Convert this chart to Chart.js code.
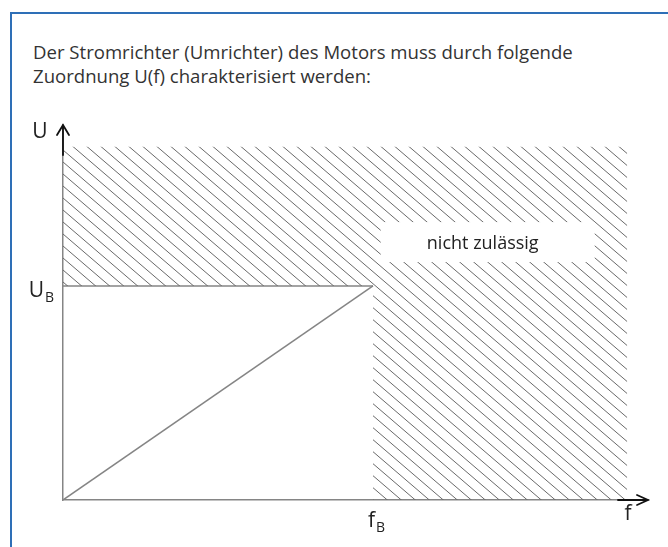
<!DOCTYPE html>
<html>
<head>
<meta charset="utf-8">
<script src="https://cdn.jsdelivr.net/npm/chart.js@4.4.1/dist/chart.umd.min.js"></script>
<style>
html, body { margin: 0; padding: 0; background: #fff; }
#page { position: relative; width: 668px; height: 547px; overflow: hidden; }
#frame { position: absolute; left: 10px; top: 12px; right: -10px; bottom: -10px;
         border-top: 2px solid #2e6fb7; border-left: 2px solid #2e6fb7; }
#intro { position: absolute; left: 33px; top: 40px; margin: 0; font-family: "Open Sans";
         color: #333; line-height: 24px; white-space: nowrap; }
#chart { position: absolute; left: 0; top: 0; }
</style>
</head>
<body>
<div id="page">
  <div id="frame"></div>
  <p id="intro"></p>
  <canvas id="chart" width="668" height="547"></canvas>
</div>
<script>
var introLines = [
    'Der Stromrichter (Umrichter) des Motors muss durch folgende',
    'Zuordnung U(f) charakterisiert werden:'
];

// axes (f_B = 1, U_B = 1)
var fAxisTitle = 'f';
var uAxisTitle = 'U';
var fAxisMax = 1.887;
var uAxisMax = 1.752;
var xTickValues = [1];
var xTickLabels = ['f_B'];
var yTickValues = [1];
var yTickLabels = ['U_B'];

// U(f) characteristic
var curveF = [0, 1];
var curveU = [0, 1];

// U = U_B limit
var limitF = [0, 1];
var limitU = [1, 1];

// lower edge of the forbidden zone, hatched up to forbiddenTop
var forbiddenF = [0, 1, 1, 1.82];
var forbiddenU = [1, 1, 0, 0];
var forbiddenTop = 1.65;
var forbiddenLabel = 'nicht zulässig';
var forbiddenLabelAt = [1.37, 1.205];

var FONT = '"Open Sans"';

// fit the intro text to the original line width
var intro = document.getElementById('intro');
var meas = document.createElement('canvas').getContext('2d');
meas.font = '100px ' + FONT;
var introSize = 100 * 540 / meas.measureText(introLines[0]).width;
intro.style.fontSize = introSize.toFixed(2) + 'px';
intro.style.top = (59 - 12 + 0.681 * introSize - 1.069 * introSize).toFixed(1) + 'px';
intro.innerHTML = introLines.join('<br>');

function pairs(xs, ys) {
    return xs.map(function (x, i) { return { x: x, y: ys[i] }; });
}

function makeHatch() {
    var w = 14, h = 12;
    var c = document.createElement('canvas');
    c.width = w; c.height = h;
    var g = c.getContext('2d');
    g.strokeStyle = '#6a6a6a';
    g.lineWidth = 1;
    g.beginPath();
    [-w, 0, w].forEach(function (dx) {
        g.moveTo(dx - w, -h);
        g.lineTo(dx + 2 * w, 2 * h);
    });
    g.stroke();
    return g.createPattern(c, 'repeat');
}

// "U_B" -> U with subscript B
function drawLabel(ctx, text, x, y, align) {
    var parts = text.split('_');
    ctx.font = '21px ' + FONT;
    var wMain = ctx.measureText(parts[0]).width;
    ctx.font = '14px ' + FONT;
    var wSub = parts[1] ? ctx.measureText(parts[1]).width + 1 : 0;
    var left = align === 'right' ? x - wMain - wSub : align === 'center' ? x - wMain / 2 : x;
    ctx.textAlign = 'left';
    ctx.textBaseline = 'alphabetic';
    ctx.font = '21px ' + FONT;
    ctx.fillText(parts[0], left, y);
    if (parts[1]) {
        ctx.font = '14px ' + FONT;
        ctx.fillText(parts[1], left + wMain + 1, y + 5);
    }
}

var axisDecor = {
    id: 'axisDecor',
    afterDraw: function (chart) {
        var ctx = chart.ctx;
        var xs = chart.scales.x, ys = chart.scales.y;
        var x0 = xs.getPixelForValue(0), y0 = ys.getPixelForValue(0);
        var tipX = xs.getPixelForValue(fAxisMax), tipY = ys.getPixelForValue(uAxisMax);
        ctx.save();

        // label box in the hatched zone
        var lx = xs.getPixelForValue(forbiddenLabelAt[0]);
        var ly = ys.getPixelForValue(forbiddenLabelAt[1]);
        ctx.fillStyle = '#fff';
        ctx.fillRect(lx - 107, ly - 20, 214, 40);
        ctx.fillStyle = '#222';
        ctx.font = '18px ' + FONT;
        ctx.textAlign = 'center';
        ctx.textBaseline = 'alphabetic';
        ctx.fillText(forbiddenLabel, lx - 5, ly + 7);

        // arrows
        ctx.strokeStyle = '#111';
        ctx.lineWidth = 1.8;
        ctx.lineCap = 'round';
        ctx.beginPath();
        ctx.moveTo(tipX - 30, y0); ctx.lineTo(tipX, y0);
        ctx.moveTo(tipX - 11, y0 - 5); ctx.lineTo(tipX, y0); ctx.lineTo(tipX - 11, y0 + 5);
        ctx.moveTo(x0, tipY + 30); ctx.lineTo(x0, tipY);
        ctx.moveTo(x0 - 6, tipY + 10); ctx.lineTo(x0, tipY); ctx.lineTo(x0 + 6, tipY + 10);
        ctx.stroke();

        // axis titles and tick labels
        ctx.fillStyle = '#222';
        drawLabel(ctx, uAxisTitle, x0 - 23, tipY + 13, 'center');
        drawLabel(ctx, fAxisTitle, tipX - 20, y0 + 20, 'center');
        xTickValues.forEach(function (v, i) {
            drawLabel(ctx, xTickLabels[i], xs.getPixelForValue(v) - 5, y0 + 27, 'left');
        });
        yTickValues.forEach(function (v, i) {
            drawLabel(ctx, yTickLabels[i], x0 - 9, ys.getPixelForValue(v) + 11, 'right');
        });
        ctx.restore();
    }
};

var axisLine = { color: '#858585', width: 1.5 };

new Chart(document.getElementById('chart'), {
    type: 'line',
    data: {
        datasets: [
            { label: forbiddenLabel, data: pairs(forbiddenF, forbiddenU), borderColor: 'rgba(0,0,0,0)',
              borderWidth: 0, pointRadius: 0, fill: { value: forbiddenTop }, backgroundColor: makeHatch() },
            { label: 'U_B', data: pairs(limitF, limitU), borderColor: '#858585', borderWidth: 1.5,
              pointRadius: 0, fill: false },
            { label: 'U(f)', data: pairs(curveF, curveU), borderColor: '#858585', borderWidth: 1.5,
              pointRadius: 0, fill: false }
        ]
    },
    options: {
        responsive: false,
        animation: false,
        devicePixelRatio: 1,
        layout: { padding: { left: 63, top: 125, right: 20, bottom: 47 } },
        plugins: { legend: { display: false }, tooltip: { enabled: false } },
        scales: {
            x: { type: 'linear', min: 0, max: fAxisMax,
                 grid: { display: false, drawTicks: false }, ticks: { display: false }, border: axisLine },
            y: { type: 'linear', min: 0, max: uAxisMax,
                 grid: { display: false, drawTicks: false }, ticks: { display: false }, border: axisLine }
        }
    },
    plugins: [axisDecor]
});
</script>
</body>
</html>
